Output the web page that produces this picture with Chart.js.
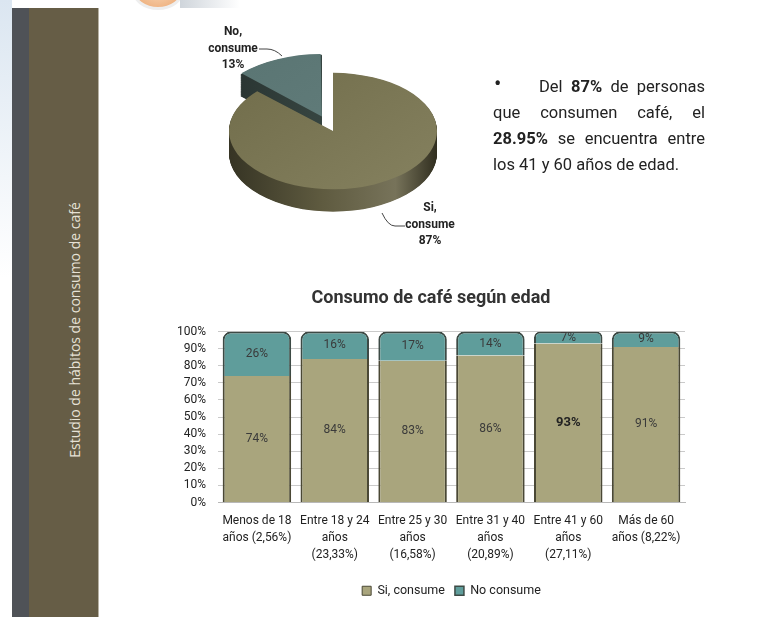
<!DOCTYPE html>
<html>
<head>
<meta charset="utf-8">
<script src="https://cdn.jsdelivr.net/npm/chart.js@4.4.1/dist/chart.umd.min.js"></script>
<style>
  html, body { margin: 0; padding: 0; background: #fff; }
  body { width: 766px; height: 617px; position: relative; overflow: hidden; font-family: Roboto, "Open Sans", sans-serif; }
  #edge { position: absolute; left: 0; top: 0; width: 12px; height: 617px; background: linear-gradient(180deg, #dbe6f1, #ffffff 45%); }
  #logo { position: absolute; left: 132px; top: -30px; width: 46px; height: 34px; border-radius: 50%;
          background: radial-gradient(circle at 50% 35%, #fbe0c4, #eba46c); border: 3px solid #eeeeee; }
  #swoosh { position: absolute; left: 180px; top: 0; width: 60px; height: 8px; background: linear-gradient(90deg, #cfd5db, rgba(255,255,255,0)); }
  #strip { position: absolute; left: 12px; top: 8px; width: 17px; height: 609px; background: #4f5257; }
  #band { position: absolute; left: 29px; top: 8px; width: 69px; height: 609px; background: #665d46; border-right: 1px solid #b7b2a4; }
  #bandText { position: absolute; left: -75px; top: 320px; width: 300px; height: 20px; line-height: 20px; text-align: center;
              transform: rotate(-90deg); color: #e6e2d6; font: 14px "Open Sans", sans-serif; white-space: nowrap; }
  #pie { position: absolute; left: 160px; top: 0; }
  #note { position: absolute; left: 493px; top: 74px; width: 212px; color: #222; font-size: 16.5px; line-height: 26px; z-index: 2; }
  #note div { text-align: justify; text-align-last: justify; white-space: nowrap; }
  #note div.last { text-align-last: left; }
  #note span.dot { display: inline-block; width: 46px; text-align: left; padding-left: 1px; box-sizing: border-box; font-size: 22px; line-height: 20px; vertical-align: top; }
  #bars { position: absolute; left: 150px; top: 280px; }
</style>
</head>
<body>
<div id="edge"></div>
<div id="logo"></div>
<div id="swoosh"></div>
<div id="strip"></div>
<div id="band"></div>
<div id="bandText">Estudio de hábitos de consumo de café</div>
<canvas id="pie" width="346" height="262"></canvas>
<div id="note">
  <div><span class="dot">•</span>Del <b>87%</b> de personas</div>
  <div>que consumen café, el</div>
  <div><b>28.95%</b> se encuentra entre</div>
  <div class="last">los 41 y 60 años de edad.</div>
</div>
<canvas id="bars" width="574" height="327"></canvas>
<script>
const FONT = 'Roboto, "Open Sans", sans-serif';

// pie: consume / no consume
const pieLabels = ['Si, consume', 'No, consume'];
const pieValues = [87, 13];

// stacked bars by age group
const ageLabels = [
  ['Menos de 18', 'años (2,56%)'],
  ['Entre 18 y 24', 'años', '(23,33%)'],
  ['Entre 25 y 30', 'años', '(16,58%)'],
  ['Entre 31 y 40', 'años', '(20,89%)'],
  ['Entre 41 y 60', 'años', '(27,11%)'],
  ['Más de 60', 'años (8,22%)']
];
const siConsume = [74, 84, 83, 86, 93, 91];
const noConsume = [26, 16, 17, 14, 7, 9];
const yTickValues = [0, 10, 20, 30, 40, 50, 60, 70, 80, 90, 100];

const SQUASH = 0.56;   // vertical squeeze of the pie
const DEPTH = 40;      // thickness, in unsquashed px

// draws the pie sides and squeezes the chart into an ellipse
const pie3d = {
  id: 'pie3d',
  beforeDatasetsDraw(chart) {
    const ctx = chart.ctx;
    const arcs = chart.getDatasetMeta(0).data;
    const cx = arcs[0].x, cy = arcs[0].y;
    ctx.save();
    ctx.translate(cx, cy);
    ctx.scale(1, SQUASH);
    ctx.translate(-cx, -cy);
    const sideStops = [
      ['#363424', '#5f5b40', '#77735a', '#302e1f'],
      ['#26302e', '#35433f', '#3c4c49', '#26302e']
    ];
    [1, 0].forEach(i => {
      const a = arcs[i];
      const off = (a.options.offset || 0) / 4;
      const mid = (a.startAngle + a.endAngle) / 2;
      const ox = a.x + Math.cos(mid) * off;
      const oy = a.y + Math.sin(mid) * off;
      const r = a.outerRadius + off * (1 - Math.sin(Math.min(Math.PI, a.endAngle - a.startAngle)));
      const g = ctx.createLinearGradient(ox - r, 0, ox + r, 0);
      const s = sideStops[i];
      g.addColorStop(0, s[0]);
      g.addColorStop(0.45, s[1]);
      g.addColorStop(0.8, s[2]);
      g.addColorStop(1, s[3]);
      ctx.fillStyle = g;
      for (let d = DEPTH; d > 0; d--) {
        ctx.beginPath();
        ctx.moveTo(ox, oy + d);
        ctx.arc(ox, oy + d, r, a.startAngle, a.endAngle);
        ctx.closePath();
        ctx.fill();
      }
    });
  },
  afterDatasetsDraw(chart) {
    chart.ctx.restore();
  },
  afterDraw(chart) {
    const ctx = chart.ctx;
    const a = chart.getDatasetMeta(0).data[0];
    const cx = a.x, cy = a.y;
    ctx.save();
    ctx.font = 'bold 12px ' + FONT;
    ctx.fillStyle = '#222';
    ctx.textAlign = 'center';
    ctx.textBaseline = 'middle';
    const spots = [
      { x: cx + 97, y: cy + 77, line: [[cx + 72, cy + 95], [cx + 62, cy + 95], [cx + 55, cy + 95], [cx + 49, cy + 82]] },
      { x: cx - 100, y: cy - 99, line: [[cx - 74, cy - 82], [cx - 66, cy - 82], [cx - 58, cy - 82], [cx - 51, cy - 75]] }
    ];
    pieLabels.forEach((lab, i) => {
      const parts = lab.split(' ').concat(pieValues[i] + '%');
      const sp = spots[i];
      parts.forEach((t, k) => ctx.fillText(t, sp.x, sp.y + k * 16.5));
      const p = sp.line;
      ctx.strokeStyle = '#444';
      ctx.lineWidth = 1;
      ctx.beginPath();
      ctx.moveTo(p[0][0], p[0][1]);
      ctx.lineTo(p[1][0], p[1][1]);
      ctx.quadraticCurveTo(p[2][0], p[2][1], p[3][0], p[3][1]);
      ctx.stroke();
    });
    ctx.restore();
  }
};

const faceColors = [['#6e6a48', '#8a8664'], ['#587371', '#688381']];

function faceFill(c) {
  const pair = faceColors[c.dataIndex] || faceColors[0];
  const chart = c.chart;
  const area = chart.chartArea;
  if (!area) return pair[0];
  const g = chart.ctx.createLinearGradient(area.left + 40, area.top, area.right, area.bottom);
  g.addColorStop(0, pair[0]);
  g.addColorStop(1, pair[1]);
  return g;
}

new Chart(document.getElementById('pie'), {
  type: 'pie',
  data: {
    labels: pieLabels,
    datasets: [{
      data: pieValues,
      backgroundColor: faceFill,
      borderWidth: 0,
      offset: [0, 112],
      clip: false
    }]
  },
  options: {
    responsive: false,
    animation: false,
    radius: 104,
    plugins: { legend: { display: false }, tooltip: { enabled: false } },
    events: []
  },
  plugins: [pie3d]
});

const barLabels = {
  id: 'barLabels',
  afterDatasetsDraw(chart) {
    const ctx = chart.ctx;
    const best = Math.max(...siConsume);
    ctx.save();
    ctx.textAlign = 'center';
    ctx.textBaseline = 'middle';
    chart.data.datasets.forEach((ds, i) => {
      chart.getDatasetMeta(i).data.forEach((bar, j) => {
        const v = ds.data[j];
        const strong = i === 0 && v === best;
        ctx.font = (strong ? 'bold 13px ' : '12px ') + FONT;
        ctx.fillStyle = strong ? '#222' : '#3a3a3a';
        ctx.fillText(v + '%', bar.x, (bar.y + bar.base) / 2);
      });
    });
    ctx.restore();
  }
};

new Chart(document.getElementById('bars'), {
  type: 'bar',
  data: {
    labels: ageLabels,
    datasets: [
      {
        label: 'Si, consume',
        data: siConsume,
        backgroundColor: '#a9a57d',
        borderColor: '#4a4835',
        borderWidth: { left: 2, right: 2, top: 0, bottom: 0 },
        borderSkipped: false,
        borderRadius: 0
      },
      {
        label: 'No consume',
        data: noConsume,
        backgroundColor: '#5f9d9b',
        borderColor: '#3d4a45',
        borderWidth: { left: 2, right: 2, top: 2, bottom: 0 },
        borderSkipped: false,
        borderRadius: { topLeft: 8, topRight: 8, bottomLeft: 0, bottomRight: 0 }
      }
    ]
  },
  options: {
    responsive: false,
    animation: false,
    events: [],
    layout: { padding: { left: 27, right: 39, top: 0, bottom: 0 } },
    datasets: { bar: { categoryPercentage: 1, barPercentage: 0.88 } },
    scales: {
      x: {
        stacked: true,
        grid: { display: false, drawTicks: false },
        border: { color: '#b8b8b8' },
        ticks: { color: '#222', font: { family: FONT, size: 12, lineHeight: 1.4 }, padding: 10, maxRotation: 0, autoSkip: false },
        afterFit(s) { s.height = 72; }
      },
      y: {
        stacked: true,
        min: 0,
        max: 100,
        afterBuildTicks(s) { s.ticks = yTickValues.map(v => ({ value: v })); },
        ticks: { callback: v => v + '%', color: '#222', font: { family: FONT, size: 12 }, padding: 12, autoSkip: false },
        grid: { color: '#cacaca', drawTicks: false },
        border: { display: false },
        afterFit(s) { s.width = 41; }
      }
    },
    plugins: {
      title: {
        display: true,
        text: 'Consumo de café según edad',
        color: '#333',
        font: { family: FONT, size: 18, weight: 'bold' },
        padding: { top: 8, bottom: 22 }
      },
      legend: {
        position: 'bottom',
        fullSize: false,
        labels: { boxWidth: 9, boxHeight: 9, padding: 10, color: '#222', font: { family: FONT, size: 12.5 } }
      },
      tooltip: { enabled: false }
    }
  },
  plugins: [barLabels]
});
</script>
</body>
</html>
